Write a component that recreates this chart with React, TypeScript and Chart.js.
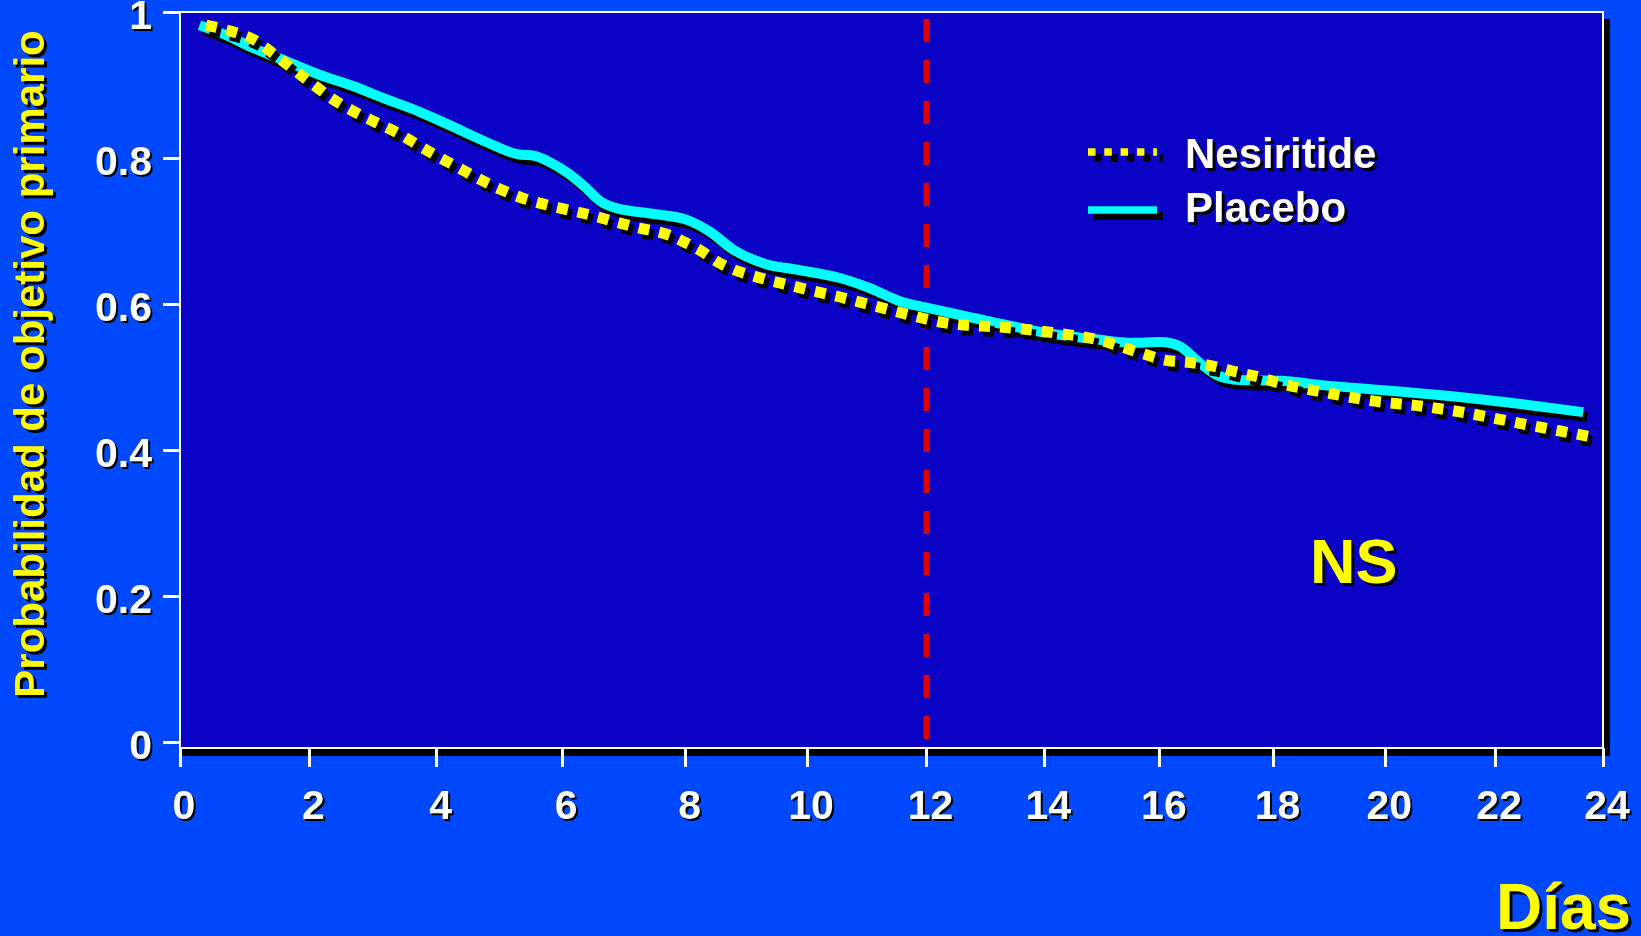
import React, { useEffect, useRef } from 'react';
import { Chart, registerables, LinearScale } from 'chart.js';

// ---------- data ----------
const X_TICKS = [0, 2, 4, 6, 8, 10, 12, 14, 16, 18, 20, 22, 24];
const X_TICK_LABELS = ['0', '2', '4', '6', '8', '10', '12', '14', '16', '18', '20', '22', '24'];
const Y_TICKS = [0, 0.2, 0.4, 0.6, 0.8, 1];
const Y_TICK_LABELS = ['0', '0.2', '0.4', '0.6', '0.8', '1'];
const REFERENCE_DAY = 12;

const SERIES_LABELS = ['Nesiritide', 'Placebo'];

const NESIRITIDE_DAYS = [0.40, 0.77, 1.14, 1.44, 1.76, 2.07, 2.36, 2.67, 3.01, 3.37, 3.68, 4.00, 4.34, 4.68, 5.02, 5.37, 5.74, 6.10, 6.50, 6.84, 7.21, 7.75, 8.00, 8.25, 8.52, 8.79, 9.05, 9.40, 9.75, 10.10, 10.53, 10.96, 11.38, 11.72, 12.07, 12.41, 13.34, 14.14, 14.93, 15.31, 15.70, 16.11, 16.53, 16.93, 17.34, 17.74, 18.14, 18.98, 19.81, 20.68, 21.54, 22.43, 23.36, 23.85];
const NESIRITIDE_PROB = [0.983, 0.975, 0.963, 0.944, 0.922, 0.901, 0.882, 0.866, 0.851, 0.836, 0.820, 0.804, 0.788, 0.772, 0.758, 0.746, 0.737, 0.730, 0.722, 0.714, 0.706, 0.695, 0.685, 0.674, 0.659, 0.648, 0.641, 0.633, 0.626, 0.619, 0.611, 0.602, 0.593, 0.586, 0.579, 0.574, 0.569, 0.562, 0.552, 0.543, 0.533, 0.524, 0.521, 0.516, 0.508, 0.501, 0.492, 0.479, 0.468, 0.461, 0.451, 0.438, 0.425, 0.418];

const PLACEBO_DAYS = [0.30, 0.77, 1.09, 1.63, 2.16, 2.67, 3.19, 3.71, 4.23, 4.76, 5.30, 5.56, 5.83, 6.10, 6.36, 6.63, 6.89, 7.43, 8.00, 8.40, 8.79, 9.31, 9.84, 10.53, 11.04, 11.55, 12.00, 13.14, 13.93, 14.96, 15.52, 16.00, 16.35, 16.70, 16.99, 17.41, 18.12, 18.85, 20.31, 21.81, 23.63];
const PLACEBO_PROB = [0.983, 0.967, 0.953, 0.934, 0.915, 0.900, 0.882, 0.865, 0.845, 0.824, 0.806, 0.804, 0.794, 0.780, 0.762, 0.741, 0.732, 0.725, 0.717, 0.700, 0.675, 0.656, 0.648, 0.637, 0.623, 0.605, 0.596, 0.576, 0.563, 0.552, 0.548, 0.549, 0.543, 0.520, 0.504, 0.497, 0.496, 0.490, 0.481, 0.470, 0.453];

// ---------- styles ----------
const OUTER_BG = '#0048FE';
const PLOT_BG = '#0A02C4';
const YELLOW = '#FFFF00';
const CYAN = '#00FFFF';
const RED = '#E00000';
const FONT = "'Liberation Sans', Arial, Helvetica, sans-serif";
const X_CURVE = 0.0987; // slight compression of the day axis toward the right, as drawn in the reference

// Linear scale whose spacing compresses gently to the right (the reference's day axis is not evenly spaced)
class WarpedLinearScale extends LinearScale {
  static id = 'warpedLinear';
  static defaults = LinearScale.defaults;
  getPixelForValue(value: any) {
    if (value === null || value === undefined || isNaN(value)) return NaN;
    const self: any = this;
    const t = (value - self._startValue) / self._valueRange;
    return this.getPixelForDecimal(t * (1 + X_CURVE) - X_CURVE * t * t);
  }
  getValueForPixel(pixel: number) {
    const self: any = this;
    const u = this.getDecimalForPixel(pixel);
    const a = X_CURVE;
    const b = -(1 + X_CURVE);
    const t = (-b - Math.sqrt(b * b - 4 * a * u)) / (2 * a);
    return self._startValue + t * self._valueRange;
  }
}

Chart.register(...registerables, WarpedLinearScale);

function drawText(ctx: CanvasRenderingContext2D, text: string, x: number, y: number, size: number, color: string, align: CanvasTextAlign = 'left', off = 3, rotate = 0) {
  ctx.save();
  ctx.font = `bold ${size}px ${FONT}`;
  ctx.textAlign = align;
  ctx.textBaseline = 'alphabetic';
  ctx.shadowColor = '#000';
  ctx.shadowBlur = 0;
  ctx.shadowOffsetX = off;
  ctx.shadowOffsetY = off;
  ctx.fillStyle = color;
  ctx.translate(x, y);
  if (rotate) ctx.rotate(rotate);
  ctx.fillText(text, 0, 0);
  ctx.restore();
}

const decorPlugin = {
  id: 'decor',
  beforeDraw(chart: any) {
    const { ctx, chartArea: a } = chart;
    const w = a.right - a.left;
    const h = a.bottom - a.top;
    ctx.save();
    ctx.fillStyle = OUTER_BG;
    ctx.fillRect(0, 0, chart.width, chart.height);
    ctx.fillStyle = '#000';
    ctx.fillRect(a.left, a.top + 7, w + 7, h + 1);
    ctx.fillStyle = PLOT_BG;
    ctx.fillRect(a.left, a.top, w, h);
    ctx.strokeStyle = '#FFFFFF';
    ctx.lineWidth = 2;
    ctx.strokeRect(a.left, a.top, w, h);
    ctx.restore();
  },
  beforeDatasetsDraw(chart: any) {
    const { ctx, chartArea: a } = chart;
    const x = chart.scales.x.getPixelForValue(REFERENCE_DAY);
    ctx.save();
    ctx.strokeStyle = RED;
    ctx.lineWidth = 6;
    ctx.setLineDash([23, 18]);
    ctx.lineDashOffset = -7;
    ctx.beginPath();
    ctx.moveTo(x, a.top);
    ctx.lineTo(x, a.bottom - 2);
    ctx.stroke();
    ctx.restore();
  },
  beforeDatasetDraw(chart: any) {
    const ctx = chart.ctx;
    ctx.save();
    ctx.shadowColor = '#000';
    ctx.shadowBlur = 0;
    ctx.shadowOffsetX = 4;
    ctx.shadowOffsetY = 5;
  },
  afterDatasetDraw(chart: any) {
    chart.ctx.restore();
  },
  afterDatasetsDraw(chart: any) {
    // tick labels (drawn next, above the datasets) get a small drop shadow
    const ctx = chart.ctx;
    ctx.save();
    ctx.shadowColor = '#000';
    ctx.shadowBlur = 0;
    ctx.shadowOffsetX = 2;
    ctx.shadowOffsetY = 2;
  },
  afterDraw(chart: any) {
    const ctx = chart.ctx;
    ctx.restore();

    // y axis title
    drawText(ctx, 'Probabilidad de objetivo primario', 44, 364, 42, YELLOW, 'center', 3, -Math.PI / 2);

    // legend
    chart.data.datasets.forEach((d: any, i: number) => {
      const cy = 153 + i * 54;
      ctx.save();
      ctx.shadowColor = '#000';
      ctx.shadowBlur = 0;
      ctx.shadowOffsetX = 6;
      ctx.shadowOffsetY = 6;
      ctx.strokeStyle = d.borderColor;
      ctx.lineCap = 'butt';
      ctx.lineWidth = 7.5;
      if (d.borderDash && d.borderDash.length) ctx.setLineDash([7.5, 8.8]);
      const ly = cy + (i === 0 ? -1 : 3);
      ctx.beginPath();
      ctx.moveTo(1088, ly);
      ctx.lineTo(1157, ly);
      ctx.stroke();
      ctx.restore();
      drawText(ctx, d.label, 1185, cy + 15, 42, '#FFFFFF', 'left', 3);
    });

    drawText(ctx, 'NS', 1310, 583, 63, YELLOW, 'left', 3);
    drawText(ctx, 'Días', 1496, 929, 64, YELLOW, 'left', 3);
  },
};

export default function App() {
  const ref = useRef<HTMLCanvasElement | null>(null);

  useEffect(() => {
    if (!ref.current) return;
    const chart = new Chart(ref.current, {
      type: 'line',
      data: {
        datasets: [
          {
            label: SERIES_LABELS[0],
            data: NESIRITIDE_DAYS.map((d, i) => ({ x: d, y: NESIRITIDE_PROB[i] })),
            borderColor: YELLOW,
            borderWidth: 11,
            borderDash: [11, 10],
            borderCapStyle: 'butt',
            pointRadius: 0,
            cubicInterpolationMode: 'monotone',
            fill: false,
          },
          {
            label: SERIES_LABELS[1],
            data: PLACEBO_DAYS.map((d, i) => ({ x: d, y: PLACEBO_PROB[i] })),
            borderColor: CYAN,
            borderWidth: 10,
            borderCapStyle: 'butt',
            borderJoinStyle: 'round',
            pointRadius: 0,
            cubicInterpolationMode: 'monotone',
            fill: false,
          },
        ],
      },
      options: {
        animation: false,
        responsive: false,
        maintainAspectRatio: false,
        devicePixelRatio: 1,
        layout: { padding: { top: 12, right: 38, left: 0, bottom: 0 } },
        plugins: {
          legend: { display: false },
          title: { display: false },
          tooltip: { enabled: false },
        },
        scales: {
          x: {
            type: 'warpedLinear' as any,
            min: 0,
            max: 24,
            border: { display: false },
            grid: {
              drawOnChartArea: false,
              drawTicks: true,
              tickLength: 19,
              tickWidth: 3,
              tickColor: '#FFFFFF',
              color: '#FFFFFF',
            },
            ticks: {
              z: 1,
              autoSkip: false,
              maxRotation: 0,
              minRotation: 0,
              padding: 16,
              labelOffset: 4,
              color: '#FFFFFF',
              font: { family: FONT, size: 41, weight: 'bold' },
              callback: (v: any) => {
                const idx = X_TICKS.indexOf(Number(v));
                return idx >= 0 ? X_TICK_LABELS[idx] : '';
              },
            },
            afterBuildTicks: (scale: any) => {
              scale.ticks = X_TICKS.map((v) => ({ value: v }));
            },
            afterFit: (scale: any) => {
              scale.height = 188;
              scale.paddingLeft = 0;
              scale.paddingRight = 0;
            },
          } as any,
          y: {
            type: 'linear',
            min: -0.007,
            max: 1.001,
            border: { display: false },
            grid: {
              drawOnChartArea: false,
              drawTicks: true,
              tickLength: 17,
              tickWidth: 3,
              tickColor: '#FFFFFF',
              color: '#FFFFFF',
            },
            ticks: {
              z: 1,
              autoSkip: false,
              padding: 11,
              labelOffset: 5,
              color: '#FFFFFF',
              font: { family: FONT, size: 41, weight: 'bold' },
              callback: (v: any) => {
                const idx = Y_TICKS.findIndex((t) => Math.abs(t - Number(v)) < 1e-9);
                return idx >= 0 ? Y_TICK_LABELS[idx] : '';
              },
            },
            afterBuildTicks: (scale: any) => {
              scale.ticks = Y_TICKS.map((v) => ({ value: v }));
            },
            afterFit: (scale: any) => {
              scale.width = 180;
              scale.paddingTop = 0;
              scale.paddingBottom = 0;
            },
          } as any,
        },
      },
      plugins: [decorPlugin as any],
    });
    return () => chart.destroy();
  }, []);

  return (
    <div style={{ position: 'fixed', left: 0, top: 0, width: 1641, height: 936, background: OUTER_BG }}>
      <canvas ref={ref} width={1641} height={936} style={{ display: 'block', width: 1641, height: 936 }} />
    </div>
  );
}
